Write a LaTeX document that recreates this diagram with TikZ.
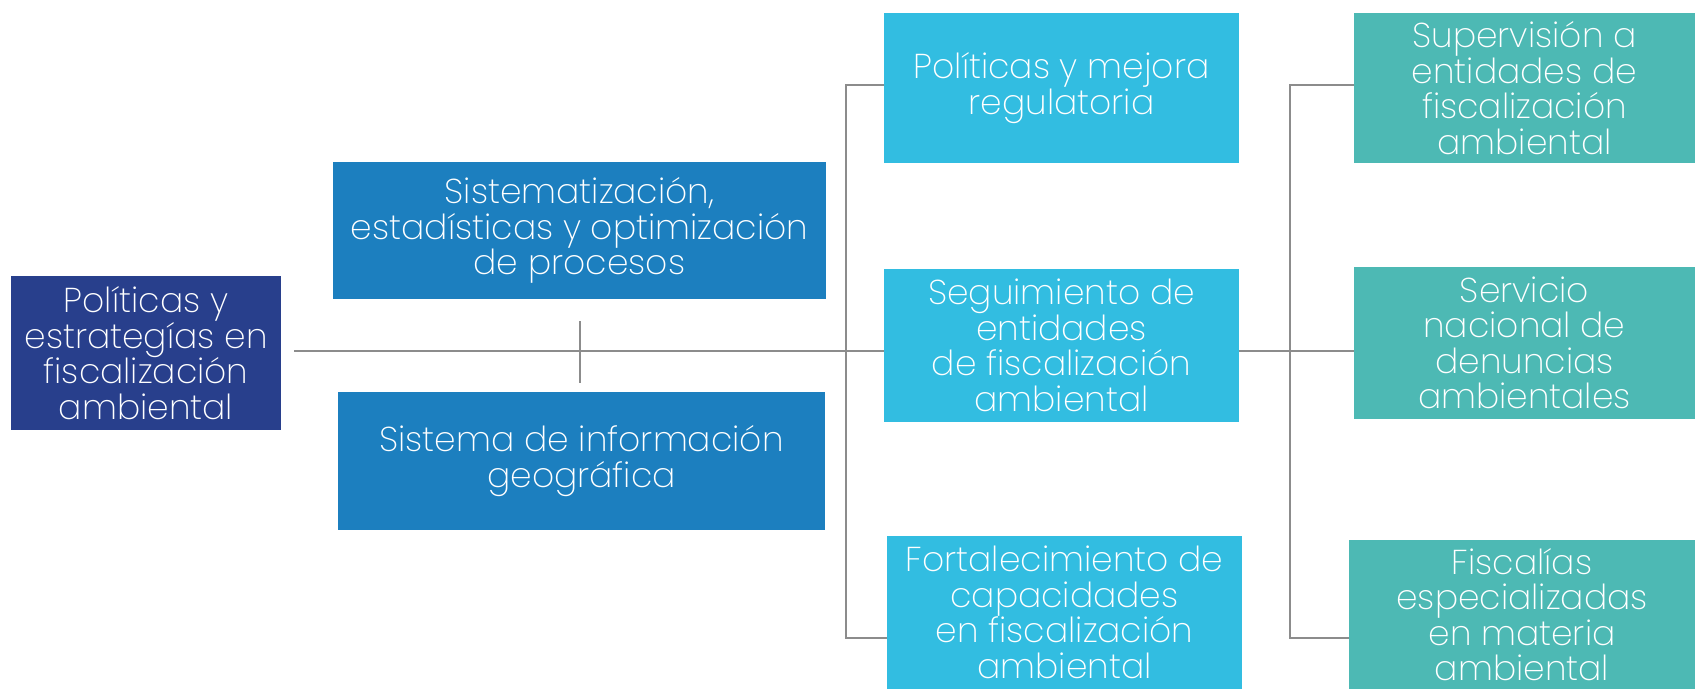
\documentclass[tikz,border=0pt]{standalone}
\usepackage{fontspec}
\setmainfont{Poppins}[UprightFont=* ExtraLight]
\usepackage{xcolor}
\definecolor{fnavy}{RGB}{40,63,140}
\definecolor{fblue}{RGB}{28,127,191}
\definecolor{fcyan}{RGB}{50,189,225}
\definecolor{fteal}{RGB}{77,185,180}
\definecolor{fgray}{RGB}{140,140,140}
\usetikzlibrary{positioning, backgrounds}

\tikzset{
  box/.style={rectangle, inner sep=0pt, text=white, align=center,
    font=\fontsize{34.5}{35.5}\selectfont},
  conn/.style={draw=fgray, line width=2pt}
}

\begin{document}
\begin{tikzpicture}[x=1pt, y=-1pt]
  \useasboundingbox (0,0) rectangle (1695,689);

  % Root
  \node[box, fill=fnavy, minimum width=270, minimum height=154] (root) at (146,353)
    {Políticas y\\estrategías en\\fiscalización\\ambiental};

  % Support boxes
  \node[box, fill=fblue, minimum width=493, minimum height=137] (sist) at (579.5,230.5)
    {Sistematización,\\estadísticas y optimización\\de procesos};
  \node[box, fill=fblue, minimum width=487, minimum height=138] (sig) at (581.5,461)
    {Sistema de información\\geográfica};

  % Middle column
  \node[box, fill=fcyan, minimum width=355, minimum height=150] (pol) at (1061.5,88)
    {Políticas y mejora\\regulatoria};
  \node[box, fill=fcyan, minimum width=355, minimum height=153] (seg) at (1061.5,345.5)
    {Seguimiento de\\entidades\\de fiscalización\\ambiental};
  \node[box, fill=fcyan, minimum width=355, minimum height=153] (fort) at (1064.5,612.5)
    {Fortalecimiento de\\capacidades\\en fiscalización\\ambiental};

  % Right column
  \node[box, fill=fteal, minimum width=341, minimum height=150] (sup) at (1524.5,88)
    {Supervisión a\\entidades de\\fiscalización\\ambiental};
  \node[box, fill=fteal, minimum width=341, minimum height=152] (serv) at (1524.5,343)
    {Servicio\\nacional de\\denuncias\\ambientales};
  \node[box, fill=fteal, minimum width=346, minimum height=149] (fisc) at (1522,614.5)
    {Fiscalías\\especializadas\\en materia\\ambiental};

  % Connectors
  \coordinate (hub) at (846,351);
  \coordinate (lt) at (846,85);
  \coordinate (lb) at (846,638);
  \coordinate (rt) at (1290,85);
  \coordinate (rb) at (1290,638);
  \coordinate (tickt) at (580,321);
  \coordinate (tickb) at (580,383);
  \begin{scope}[on background layer]
    \draw[conn] ([xshift=13]root.east |- hub) -- (hub -| serv.west);
    \draw[conn] (pol.west |- lt) -- (lt) -- (lb) -- (fort.west |- lb);
    \draw[conn] (sup.west |- rt) -- (rt) -- (rb) -- (fisc.west |- rb);
    \draw[conn] (tickt) -- (tickb);
  \end{scope}
\end{tikzpicture}
\end{document}
